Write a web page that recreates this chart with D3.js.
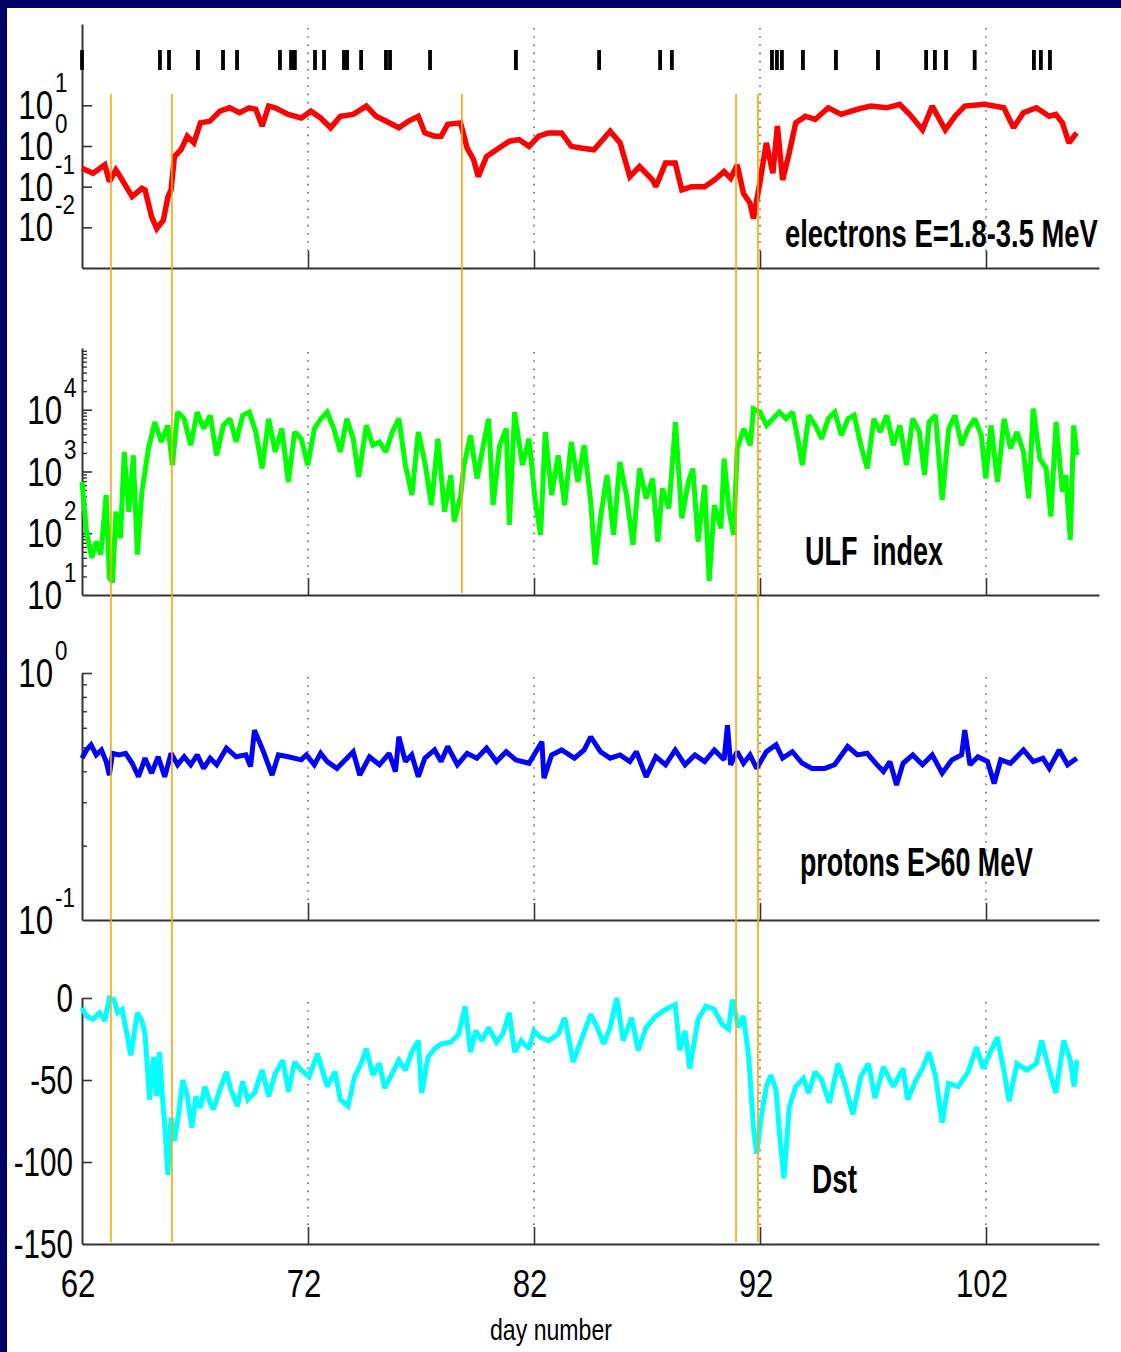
<!DOCTYPE html>
<html>
<head>
<meta charset="utf-8">
<script src="https://cdn.jsdelivr.net/npm/d3@7"></script>
<style>
  html, body { margin: 0; padding: 0; background: #fff; }
  svg { display: block; }
  text { font-family: "Liberation Sans", Arial, sans-serif; fill: #000; white-space: pre; }
</style>
</head>
<body>
<script>
const W = 1121, H = 1352

// day numbers of the marks in the strip on top
const eventDays = [62.0, 65.45, 65.85, 67.13, 68.24, 68.86, 70.76, 71.25, 71.42, 72.31, 72.71, 73.59, 73.73, 74.35,
  75.45, 75.63, 77.4, 81.2, 84.88, 87.58, 88.1, 92.53, 92.75, 92.97, 93.9, 95.36, 97.22, 99.35, 99.74, 100.23,
  101.5, 104.12, 104.43, 104.83]

// orange onset lines, and the last panel each one reaches
const onsetDays = [63.28, 65.98, 78.81, 90.94, 91.91]
const onsetLastPanel = [4, 4, 2, 4, 4]

const dayTicks = [62, 72, 82, 92, 102]

// electrons E=1.8-3.5 MeV
const eDay = [62.00, 62.49, 63.01, 63.21, 63.50, 63.78, 64.22, 64.65, 64.79, 65.08,
  65.31, 65.60, 65.80, 65.94, 66.09, 66.38, 66.66, 66.95, 67.24, 67.67,
  68.10, 68.53, 68.97, 69.40, 69.69, 69.97, 70.26, 70.55, 71.13, 71.70,
  72.13, 72.56, 73.00, 73.43, 74.00, 74.58, 75.01, 75.44, 76.02, 76.45,
  76.88, 77.17, 77.60, 77.89, 78.18, 78.75, 79.04, 79.33, 79.53, 79.90,
  80.34, 80.91, 81.34, 81.78, 82.21, 82.64, 83.22, 83.65, 84.08, 84.65,
  85.37, 85.81, 86.24, 86.67, 87.25, 87.39, 87.82, 88.25, 88.54, 88.97,
  89.55, 89.98, 90.41, 90.70, 90.99, 91.27, 91.56, 91.71, 91.99, 92.28,
  92.57, 92.77, 93.00, 93.29, 93.58, 94.01, 94.44, 95.02, 95.59, 96.31,
  96.89, 97.61, 98.18, 98.62, 99.19, 99.62, 100.20, 100.63, 101.06, 101.93,
  102.79, 103.22, 103.65, 104.23, 104.80, 105.09, 105.38, 105.67, 106.01]
const eFlux = [0.285, 0.214, 0.344, 0.133, 0.259, 0.146, 0.057, 0.091, 0.083, 0.018,
  0.0093, 0.015, 0.056, 0.083, 0.55, 0.81, 1.74, 1.19, 3.7, 4.1,
  7.2, 8.7, 6.6, 8.7, 8.0, 3.1, 9.6, 8.7, 6.0, 4.9,
  7.2, 4.9, 2.8, 5.4, 6.0, 9.6, 5.4, 4.1, 2.8, 4.1,
  5.4, 2.1, 1.74, 1.74, 3.4, 3.7, 0.89, 0.46, 0.177, 0.55,
  0.81, 1.31, 1.44, 0.98, 1.74, 2.1, 2.1, 0.98, 0.89, 0.81,
  2.3, 1.19, 0.177, 0.313, 0.146, 0.1, 0.38, 0.38, 0.083, 0.1,
  0.1, 0.146, 0.235, 0.161, 0.344, 0.068, 0.039, 0.0164, 0.121, 1.19,
  0.214, 3.1, 0.146, 0.67, 3.7, 5.4, 4.5, 8.7, 6.0, 8.0,
  9.6, 8.7, 10.6, 6.0, 2.5, 9.6, 2.5, 5.4, 9.6, 10.6,
  8.7, 2.8, 6.6, 8.7, 5.4, 6.0, 3.7, 1.19, 2.1]

// ULF index
const ulfDay = [62.00, 62.20, 62.43, 62.63, 62.83, 63.07, 63.21, 63.35, 63.50, 63.70,
  63.87, 64.07, 64.27, 64.45, 64.65, 64.94, 65.22, 65.51, 65.80, 66.00,
  66.23, 66.52, 66.81, 67.10, 67.38, 67.67, 67.96, 68.25, 68.54, 68.82,
  69.11, 69.40, 69.69, 69.97, 70.26, 70.55, 70.84, 71.13, 71.41, 71.70,
  71.99, 72.28, 72.57, 72.85, 73.14, 73.43, 73.72, 74.00, 74.24, 74.58,
  74.87, 75.16, 75.44, 75.73, 76.02, 76.31, 76.60, 76.88, 77.17, 77.46,
  77.75, 78.04, 78.32, 78.47, 78.76, 78.90, 79.19, 79.48, 79.76, 79.99,
  80.19, 80.48, 80.77, 80.91, 81.14, 81.49, 81.78, 82.06, 82.29, 82.50,
  82.78, 83.07, 83.36, 83.65, 83.94, 84.22, 84.51, 84.71, 84.94, 85.23,
  85.52, 85.80, 86.09, 86.38, 86.67, 86.96, 87.25, 87.48, 87.68, 87.97,
  88.26, 88.54, 88.83, 89.03, 89.26, 89.55, 89.75, 89.98, 90.27, 90.41,
  90.64, 90.84, 90.99, 91.28, 91.57, 91.71, 92.00, 92.29, 92.57, 92.86,
  93.15, 93.44, 93.67, 93.87, 94.16, 94.45, 94.73, 95.02, 95.31, 95.60,
  95.89, 96.17, 96.46, 96.75, 97.04, 97.32, 97.61, 97.90, 98.19, 98.48,
  98.76, 99.05, 99.28, 99.48, 99.77, 100.06, 100.35, 100.63, 100.92, 101.21,
  101.50, 101.79, 101.99, 102.22, 102.51, 102.80, 103.08, 103.37, 103.66, 103.89,
  104.09, 104.38, 104.66, 104.87, 105.10, 105.38, 105.53, 105.73, 105.88, 106.02]
const ulfVal = [680, 106, 40, 73, 45, 415, 19, 16, 223, 83,
  2075, 223, 1830, 45, 470, 2350, 6320, 3010, 5580, 1265,
  9160, 7160, 2660, 9160, 4940, 8110, 1830, 5580, 7160, 3010,
  8110, 9160, 4370, 1120, 7160, 2075, 4940, 680, 4370, 3400,
  1265, 4940, 7160, 9160, 4940, 2075, 7160, 3400, 820, 5580,
  2660, 3010, 2075, 4370, 7160, 1265, 415, 4370, 1430, 286,
  3400, 223, 873, 154, 415, 1265, 3850, 771, 2660, 7160,
  286, 2660, 4940, 136, 9160, 1265, 3400, 324, 94, 4370,
  415, 1830, 286, 3010, 680, 2660, 324, 31, 175, 873,
  94, 1430, 415, 65, 1120, 367, 771, 73, 532, 253,
  6320, 175, 680, 1120, 73, 603, 17, 286, 120, 1620,
  223, 94, 2350, 4940, 2660, 10400, 9160, 5580, 7160, 9160,
  7160, 9160, 3400, 1265, 8110, 5580, 3400, 7160, 9160, 3850,
  7160, 8110, 2660, 1120, 7160, 4370, 8110, 2660, 5580, 1265,
  7160, 4370, 873, 6320, 8110, 345, 4940, 8110, 2660, 4940,
  7160, 3850, 771, 5580, 680, 7160, 2350, 4370, 2075, 367,
  10400, 1620, 1120, 186, 6320, 470, 873, 78, 5580, 1830]

// protons E>60 MeV
const pDay = [62.00, 62.20, 62.40, 62.63, 62.86, 63.07, 63.21, 63.35, 63.64, 63.93,
  64.22, 64.50, 64.79, 65.08, 65.37, 65.66, 65.94, 66.23, 66.52, 66.81,
  67.10, 67.38, 67.67, 67.96, 68.39, 68.82, 69.25, 69.46, 69.63, 70.03,
  70.41, 70.69, 71.13, 71.70, 71.93, 72.28, 72.56, 72.85, 73.28, 73.72,
  74.00, 74.29, 74.72, 75.16, 75.59, 75.87, 76.02, 76.31, 76.59, 76.88,
  77.17, 77.60, 77.89, 78.18, 78.61, 79.04, 79.47, 79.90, 80.34, 80.77,
  81.20, 81.78, 82.35, 82.44, 82.78, 83.22, 83.79, 84.22, 84.51, 84.94,
  85.37, 85.81, 86.24, 86.53, 86.96, 87.39, 87.82, 88.25, 88.68, 89.12,
  89.55, 89.98, 90.41, 90.56, 90.70, 90.99, 91.27, 91.56, 91.85, 92.28,
  92.71, 93.00, 93.43, 93.87, 94.30, 94.87, 95.30, 95.88, 96.31, 96.74,
  97.18, 97.46, 97.75, 98.04, 98.33, 98.76, 99.19, 99.62, 100.06, 100.49,
  100.92, 101.06, 101.29, 101.64, 102.07, 102.36, 102.65, 103.08, 103.66, 104.09,
  104.52, 104.80, 105.24, 105.61, 106.02]
const pFlux = [0.452, 0.488, 0.512, 0.466, 0.488, 0.438, 0.386, 0.473, 0.466, 0.473,
  0.431, 0.380, 0.452, 0.393, 0.458, 0.380, 0.473, 0.425, 0.458, 0.425,
  0.466, 0.411, 0.452, 0.425, 0.496, 0.458, 0.466, 0.418, 0.587, 0.480,
  0.386, 0.466, 0.458, 0.445, 0.466, 0.425, 0.473, 0.438, 0.411, 0.452,
  0.480, 0.386, 0.458, 0.425, 0.473, 0.399, 0.552, 0.438, 0.466, 0.380,
  0.452, 0.488, 0.438, 0.504, 0.425, 0.473, 0.452, 0.496, 0.438, 0.480,
  0.445, 0.431, 0.527, 0.375, 0.466, 0.488, 0.452, 0.488, 0.552, 0.480,
  0.452, 0.466, 0.438, 0.480, 0.380, 0.458, 0.425, 0.488, 0.425, 0.466,
  0.438, 0.488, 0.445, 0.615, 0.425, 0.480, 0.431, 0.466, 0.411, 0.480,
  0.512, 0.452, 0.480, 0.431, 0.411, 0.411, 0.425, 0.504, 0.466, 0.473,
  0.425, 0.399, 0.438, 0.352, 0.431, 0.466, 0.425, 0.466, 0.393, 0.445,
  0.466, 0.587, 0.425, 0.458, 0.438, 0.357, 0.445, 0.431, 0.488, 0.438,
  0.452, 0.411, 0.488, 0.425, 0.452]

// Dst
const dstDay = [62.00, 62.20, 62.49, 62.78, 63.01, 63.21, 63.41, 63.58, 63.78, 63.93,
  64.16, 64.45, 64.65, 64.79, 64.99, 65.17, 65.31, 65.43, 65.57, 65.66,
  65.80, 65.94, 66.09, 66.29, 66.46, 66.66, 66.86, 67.04, 67.24, 67.44,
  67.67, 67.81, 68.10, 68.39, 68.59, 68.88, 69.11, 69.34, 69.63, 69.97,
  70.26, 70.55, 70.89, 71.13, 71.41, 71.70, 72.05, 72.42, 72.85, 73.20,
  73.43, 73.77, 74.06, 74.35, 74.58, 74.87, 75.16, 75.39, 75.73, 76.02,
  76.31, 76.59, 76.88, 77.03, 77.31, 77.60, 77.89, 78.32, 78.67, 78.95,
  79.19, 79.42, 79.70, 79.99, 80.34, 80.62, 80.91, 81.14, 81.43, 81.78,
  82.00, 82.29, 82.64, 83.07, 83.36, 83.73, 84.08, 84.51, 84.80, 85.09,
  85.37, 85.66, 85.95, 86.32, 86.61, 86.96, 87.39, 87.82, 88.25, 88.45,
  88.68, 88.89, 89.26, 89.61, 89.98, 90.32, 90.61, 90.78, 91.04, 91.27,
  91.50, 91.71, 91.85, 92.05, 92.28, 92.48, 92.71, 92.89, 93.06, 93.29,
  93.58, 93.92, 94.15, 94.44, 94.73, 95.07, 95.45, 95.74, 96.11, 96.46,
  96.80, 97.09, 97.46, 97.90, 98.33, 98.53, 98.90, 99.19, 99.48, 99.77,
  100.06, 100.34, 100.77, 101.21, 101.58, 101.87, 102.16, 102.50, 102.79, 103.02,
  103.37, 103.80, 104.23, 104.46, 104.80, 105.09, 105.44, 105.73, 105.90, 106.02]
const dstVal = [-6, -11, -13, -9, -14, 0, -1, -9, -7, -18,
  -35, -9, -14, -22, -62, -36, -60, -33, -63, -77,
  -108, -73, -87, -69, -50, -60, -79, -60, -67, -54,
  -64, -68, -56, -45, -56, -66, -51, -62, -58, -44,
  -60, -46, -38, -57, -39, -44, -48, -34, -54, -45,
  -62, -66, -48, -40, -31, -47, -40, -55, -46, -38,
  -44, -33, -26, -58, -36, -31, -28, -27, -22, -5,
  -33, -20, -26, -18, -27, -22, -9, -33, -26, -31,
  -20, -24, -26, -22, -12, -39, -26, -10, -18, -28,
  -18, 0, -26, -12, -32, -18, -11, -7, -4, -32,
  -20, -43, -13, -5, -7, -16, -19, -1, -18, -11,
  -36, -79, -95, -73, -54, -47, -56, -87, -110, -67,
  -54, -49, -58, -45, -50, -64, -40, -52, -71, -48,
  -40, -61, -42, -54, -43, -62, -50, -43, -33, -48,
  -76, -52, -54, -45, -30, -43, -34, -24, -44, -63,
  -40, -44, -40, -26, -44, -58, -26, -38, -54, -38]

const svg = d3.select('body').append('svg')
  .attr('width', W)
  .attr('height', H)

svg.append('rect').attr('width', W).attr('height', H).attr('fill', '#fff')
svg.append('rect').attr('width', W).attr('height', 8).attr('fill', '#000066')
svg.append('rect').attr('width', 7).attr('height', H).attr('fill', '#000066')

const x = d3.scaleLinear().domain([62, 107]).range([82, 1099])

// squeezed text (the original lettering is narrow)
let label = (g, px, py, s, size, anchor, sx) => {
  return g.append('text')
    .attr('transform', `translate(${px},${py}) scale(${sx},1)`)
    .attr('font-size', size)
    .attr('text-anchor', anchor)
    .text(s)
}

// text squeezed to a given width
let fitted = (s, px, py, len, size, weight) => {
  const t = svg.append('text')
    .attr('font-size', size)
    .attr('font-weight', weight)
    .text(s)
  const w = t.node().getComputedTextLength()
  t.attr('transform', `translate(${px},${py}) scale(${len / w},1)`)
}

const panels = [
  { y: d3.scaleLog().domain([1e-3, 1e3]).range([268, 24]), major: [0.01, 0.1, 1, 10], minor: [], lab: 53,
    days: eDay, vals: eFlux, color: '#ff0000', sw: 5.5 },
  { y: d3.scaleLog().domain([10, 1e5]).range([595, 348]), major: [100, 1000, 10000], minor: null, lab: 62,
    labs: [10, 100, 1000, 10000], days: ulfDay, vals: ulfVal, color: '#00ff00', sw: 5 },
  { y: d3.scaleLog().domain([0.1, 1]).range([920, 673]), major: [1], minor: null, lab: 53,
    labs: [0.1, 1], days: pDay, vals: pFlux, color: '#0000ff', sw: 5 },
  { y: d3.scaleLinear().domain([-150, 0]).range([1244, 998]), major: [-100, -50, 0], minor: [],
    days: dstDay, vals: dstVal, color: '#00ffff', sw: 5 }
]

panels.forEach((p, i) => {
  const g = svg.append('g')
  const [y0, y1] = p.y.range()

  // dotted day lines
  g.append('g').selectAll('line').data(dayTicks.slice(1)).enter()
    .append('line')
    .attr('x1', d => x(d)).attr('x2', d => x(d))
    .attr('y1', y1 + 4).attr('y2', y0 - 17)
    .attr('stroke', '#444')
    .attr('stroke-width', 1.3)
    .attr('stroke-dasharray', '1.6,6.6')

  // minor log ticks
  const minor = p.minor || p.y.ticks().filter(v => Math.abs(Math.log10(v) - Math.round(Math.log10(v))) > 1e-6)
  if (minor.length) {
    const mg = g.append('g').attr('transform', 'translate(82,0)')
      .call(d3.axisLeft(p.y).tickValues(minor).tickSize(-5).tickSizeOuter(0).tickFormat(''))
    mg.select('.domain').remove()
    mg.selectAll('line').attr('stroke', '#333').attr('stroke-width', 1.4)
  }

  const ya = g.append('g').attr('transform', 'translate(82,0)')
    .call(d3.axisLeft(p.y).tickValues(p.major).tickSize(-10).tickSizeOuter(0).tickFormat(''))
  const xa = g.append('g').attr('transform', `translate(0,${y0})`)
    .call(d3.axisBottom(x).tickValues(dayTicks.slice(1)).tickSize(-17).tickSizeOuter(0).tickFormat(''))
  ;[ya, xa].forEach(a => {
    a.select('.domain').attr('stroke', '#333').attr('stroke-width', 2)
    a.selectAll('line').attr('stroke', '#333').attr('stroke-width', 1.6)
  })

  // tick labels
  if (i < 3) {
    const labs = p.labs || p.major
    labs.forEach(v => {
      const ty = p.y(v)
      label(g, p.lab, ty + 14, '10', 40, 'end', 0.78)
      label(g, p.lab + 2, ty - 13, String(Math.round(Math.log10(v))), 28, 'start', 0.8)
    })
  } else {
    [0, -50, -100, -150].forEach(v => {
      label(g, 73, p.y(v) + 14, String(v), 40, 'end', 0.74)
    })
    dayTicks.forEach(d => {
      label(g, x(d) - 4, 1297, String(d), 39, 'middle', 0.8)
    })
  }

  // series
  const line = d3.line()
    .x(d => x(d[0]))
    .y(d => p.y(d[1]))
  g.append('path')
    .datum(d3.zip(p.days, p.vals))
    .attr('d', line)
    .attr('fill', 'none')
    .attr('stroke', p.color)
    .attr('stroke-width', p.sw)
    .attr('stroke-linejoin', 'miter')
    .attr('stroke-miterlimit', 2)
})

// event strip
svg.append('g').selectAll('line').data(eventDays).enter()
  .append('line')
  .attr('x1', d => x(d)).attr('x2', d => x(d))
  .attr('y1', 50).attr('y2', 70)
  .attr('stroke', '#000')
  .attr('stroke-width', 3.8)

// onset lines
const panelBottoms = panels.map(p => p.y.range()[0])
svg.append('g').selectAll('line').data(d3.zip(onsetDays, onsetLastPanel)).enter()
  .append('line')
  .attr('x1', d => x(d[0])).attr('x2', d => x(d[0]))
  .attr('y1', 94)
  .attr('y2', d => panelBottoms[d[1] - 1] - 2)
  .attr('stroke', '#ffa500')
  .attr('stroke-width', 1.6)

// panel titles
fitted('electrons E=1.8-3.5 MeV', 785, 247, 313, 39, 'bold')
fitted('ULF  index', 805, 565, 138, 40, 'bold')
fitted('protons E>60 MeV', 800, 876, 233, 40, 'bold')
fitted('Dst', 812, 1193, 45, 40, 'bold')
fitted('day number', 490, 1340, 122, 29, 'normal')
</script>
</body>
</html>
